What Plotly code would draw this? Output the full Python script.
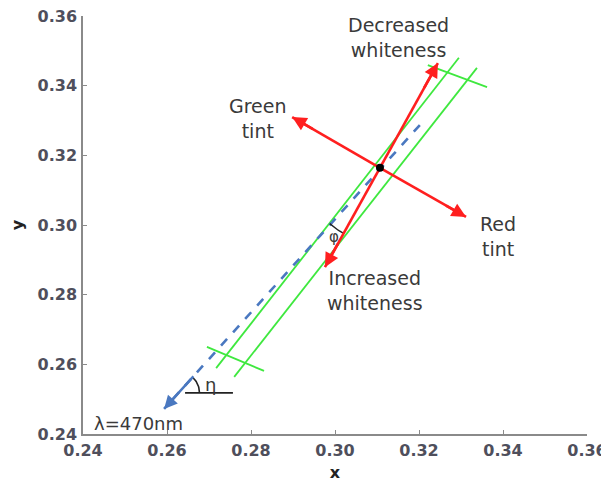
import numpy as np
import plotly.graph_objects as go

# ---- data ----
tick_vals = [0.24, 0.26, 0.28, 0.30, 0.32, 0.34, 0.36]
tick_text = ["0.24", "0.26", "0.28", "0.30", "0.32", "0.34", "0.36"]

white_point = (0.3107, 0.3164)
decreased_tip = (0.3245, 0.3465)
increased_tip = (0.2976, 0.2879)
green_tint_tip = (0.2898, 0.3310)
red_tint_tip = (0.3312, 0.3023)

blue_x = [0.3202, 0.2593]
blue_y = [0.3287, 0.2472]

green1_x = [0.2717, 0.3295]
green1_y = [0.2589, 0.3480]
green2_x = [0.2760, 0.3338]
green2_y = [0.2564, 0.3451]
cross_low_x = [0.2695, 0.2831]
cross_low_y = [0.2650, 0.2581]
cross_up_x = [0.3221, 0.3362]
cross_up_y = [0.3459, 0.3396]

eta_line_x = [0.2643, 0.2757]
eta_line_y = [0.2518, 0.2518]

labels = [
    ("Decreased<br>whiteness", 0.3150, 0.3537),
    ("Green<br>tint", 0.2817, 0.3307),
    ("Red<br>tint", 0.3388, 0.2968),
    ("Increased<br>whiteness", 0.3095, 0.2811),
]

# page body has an 8px margin, so the figure is offset in the window
W, H = 609, 474
ML, MR, MT, MB = 75, 30, 8, 48
XR = [0.24, 0.36]
YR = [0.24, 0.36]
sx = (W - ML - MR) / (XR[1] - XR[0])
sy = (H - MT - MB) / (YR[1] - YR[0])

RED = "#ff1f1f"
GREEN = "#3fe83f"
BLUE = "#4a78c0"
TXT = "#3a3a3a"
FONT = "DejaVu Sans"

fig = go.Figure()

def line(xs, ys, color, width, dash=None):
    fig.add_trace(go.Scatter(x=xs, y=ys, mode="lines",
                             line=dict(color=color, width=width, dash=dash),
                             hoverinfo="skip", showlegend=False))

for gx, gy in [(green1_x, green1_y), (green2_x, green2_y),
               (cross_low_x, cross_low_y), (cross_up_x, cross_up_y)]:
    line(gx, gy, GREEN, 1.8)

line(blue_x, blue_y, BLUE, 2.6, dash="dash")
line(eta_line_x, eta_line_y, "#222222", 1.6)

# arcs (angle markers)
def arc(cx, cy, r_px, a0, a1):
    t = np.radians(np.linspace(a0, a1, 20))
    return cx + r_px * np.cos(t) / sx, cy + r_px * np.sin(t) / sy

slope = (blue_y[0] - blue_y[1]) / (blue_x[0] - blue_x[1])
ex = blue_x[1] + (eta_line_y[0] - blue_y[1]) / slope
blue_ang = np.degrees(np.arctan2((blue_y[0] - blue_y[1]) * sy, (blue_x[0] - blue_x[1]) * sx))
ax_, ay_ = arc(ex, eta_line_y[0], 21, 0, blue_ang)
line(ax_, ay_, "#222222", 1.6)

red_ang = np.degrees(np.arctan2((increased_tip[1] - white_point[1]) * sy,
                                (increased_tip[0] - white_point[0]) * sx))
px_, py_ = arc(white_point[0], white_point[1], 75, 180 + blue_ang, 360 + red_ang)
line(px_, py_, "#222222", 1.4)

# red arrow shafts
for tip in [decreased_tip, increased_tip, green_tint_tip, red_tint_tip]:
    line([white_point[0], tip[0]], [white_point[1], tip[1]], RED, 2.6)
    fig.add_annotation(x=tip[0], y=tip[1],
                       ax=tip[0] + (white_point[0] - tip[0]) * 0.25,
                       ay=tip[1] + (white_point[1] - tip[1]) * 0.25,
                       xref="x", yref="y", axref="x", ayref="y", text="",
                       showarrow=True, arrowhead=2, arrowsize=1.1, arrowwidth=2.6,
                       arrowcolor=RED, standoff=0, startstandoff=0)

# blue arrow head
fig.add_annotation(x=blue_x[1], y=blue_y[1],
                   ax=blue_x[1] + (blue_x[0] - blue_x[1]) * 0.12,
                   ay=blue_y[1] + (blue_y[0] - blue_y[1]) * 0.12,
                   xref="x", yref="y", axref="x", ayref="y", text="",
                   showarrow=True, arrowhead=2, arrowsize=1.1, arrowwidth=2.4,
                   arrowcolor=BLUE, standoff=0)

# white point
fig.add_trace(go.Scatter(x=[white_point[0]], y=[white_point[1]], mode="markers",
                         marker=dict(color="black", size=8),
                         hoverinfo="skip", showlegend=False))

for txt, lx, ly in labels:
    fig.add_annotation(x=lx, y=ly, xref="x", yref="y", text=txt, showarrow=False,
                       font=dict(family=FONT, size=19, color=TXT), align="center")

fig.add_annotation(x=0.2531, y=0.2429, xref="x", yref="y", text="λ=470nm",
                   showarrow=False, font=dict(family=FONT, size=18, color=TXT))
fig.add_annotation(x=ex + 32 / sx, y=eta_line_y[0] + 8 / sy, xref="x", yref="y", text="η",
                   showarrow=False, font=dict(family=FONT, size=18, color=TXT))
fig.add_annotation(x=0.2998, y=0.2966, xref="x", yref="y", text="φ",
                   showarrow=False, font=dict(family=FONT, size=15, color=TXT))

axis_common = dict(
    range=XR, tickvals=tick_vals, ticktext=tick_text, showgrid=False, zeroline=False,
    showline=True, linecolor="#8a8a8a", linewidth=1.5, ticks="inside", ticklen=4,
    tickcolor="#8a8a8a", automargin=False, ticklabeloverflow="allow",
    tickfont=dict(family=FONT, size=16, color="#4f4f5c", weight="bold"),
)

fig.update_layout(
    width=W, height=H, margin=dict(l=ML, r=MR, t=MT, b=MB),
    paper_bgcolor="white", plot_bgcolor="white",
    xaxis=dict(**axis_common, ticklabelstandoff=1,
               title=dict(text="x", standoff=12,
                          font=dict(family=FONT, size=16, color="#222", weight="bold"))),
    yaxis=dict(**{**axis_common, "range": YR}, ticklabelstandoff=1,
               title=dict(text="y", standoff=14,
                          font=dict(family=FONT, size=16, color="#222", weight="bold"))),
)

fig.write_html("out.html")
